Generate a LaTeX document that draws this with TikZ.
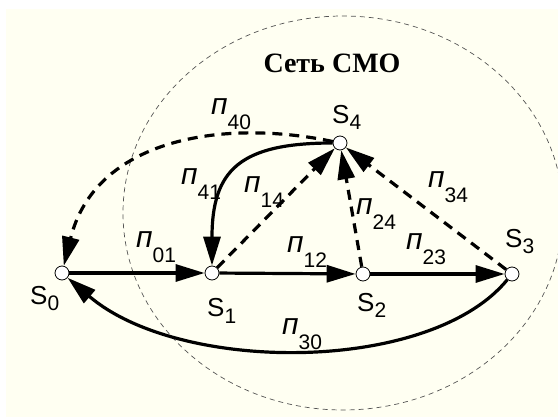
\documentclass[tikz,border=0pt]{standalone}
\usepackage{fontspec}
\setmainfont{Liberation Serif}
\newfontfamily\lblfont{Liberation Sans}
\usetikzlibrary{arrows.meta, positioning}
\definecolor{bgcream}{HTML}{FFFFF2}
\definecolor{ringgray}{HTML}{555555}
\newcommand{\plab}[1]{{\fontsize{30}{30}\selectfont\itshape п}\raisebox{-15pt}{\fontsize{21}{21}\selectfont #1}}
\newcommand{\slab}[1]{{\fontsize{26}{26}\selectfont S}\raisebox{-6pt}{\fontsize{21}{21}\selectfont #1}}

\begin{document}
\begin{tikzpicture}[x=1pt, y=-1pt,
  smo/.style={circle, draw, fill=white, line width=0.8pt, minimum size=14pt, inner sep=0pt},
  flow/.style={line width=3.2pt, -{Triangle[length=29pt, width=17pt]}},
  back/.style={flow, dash pattern=on 10pt off 7pt},
  lbl/.style={anchor=base west, inner sep=0pt, font=\lblfont}]
  \useasboundingbox (0,0) rectangle (558,417);
  \fill[bgcream] (6,9) rectangle (558,417);

  % Network boundary
  \draw[ringgray, line width=0.7pt, dash pattern=on 5pt off 4pt] (343,213) ellipse [x radius=220pt, y radius=197pt];
  \node[anchor=base, font=\fontsize{28}{28}\selectfont\bfseries] (title) at (332,73) {Сеть СМО};

  % States
  \node[smo] (s0) at (62,273) {};
  \node[smo] (s1) at (212,273) {};
  \node[smo] (s2) at (363,274) {};
  \node[smo] (s3) at (512,274) {};
  \node[smo] (s4) at (340,143) {};

  % Transitions
  \draw[flow] (s0) -- (s1);
  \draw[flow] (s1) -- (s2);
  \draw[flow] (s2) -- (s3);
  \draw[flow] (s3) .. controls (430,374) and (180,374) .. (s0);
  \draw[flow] (s4) .. controls (240,143) and (212,170) .. (s1);
  \draw[back] (s1) -- (s4);
  \draw[back] (s2) -- (s4);
  \draw[back] (s3) -- (s4);
  \draw[back] (s4) .. controls (220,118) and (95,140) .. (s0);

  % State names
  \node[lbl] (n0) at (30,305) {\slab{0}};
  \node[lbl] (n1) at (207,317) {\slab{1}};
  \node[lbl] (n2) at (357,312) {\slab{2}};
  \node[lbl] (n3) at (505,248) {\slab{3}};
  \node[lbl] (n4) at (332,124) {\slab{4}};

  % Intensities
  \node[lbl] (p40) at (211,115) {\plab{40}};
  \node[lbl] (p41) at (181,185) {\plab{41}};
  \node[lbl] (p14) at (244,193) {\plab{14}};
  \node[lbl] (p24) at (356,215) {\plab{24}};
  \node[lbl] (p34) at (428,188) {\plab{34}};
  \node[lbl] (p01) at (136,248) {\plab{01}};
  \node[lbl] (p12) at (287,253) {\plab{12}};
  \node[lbl] (p23) at (406,250) {\plab{23}};
  \node[lbl] (p30) at (282,335) {\plab{30}};
\end{tikzpicture}
\end{document}
